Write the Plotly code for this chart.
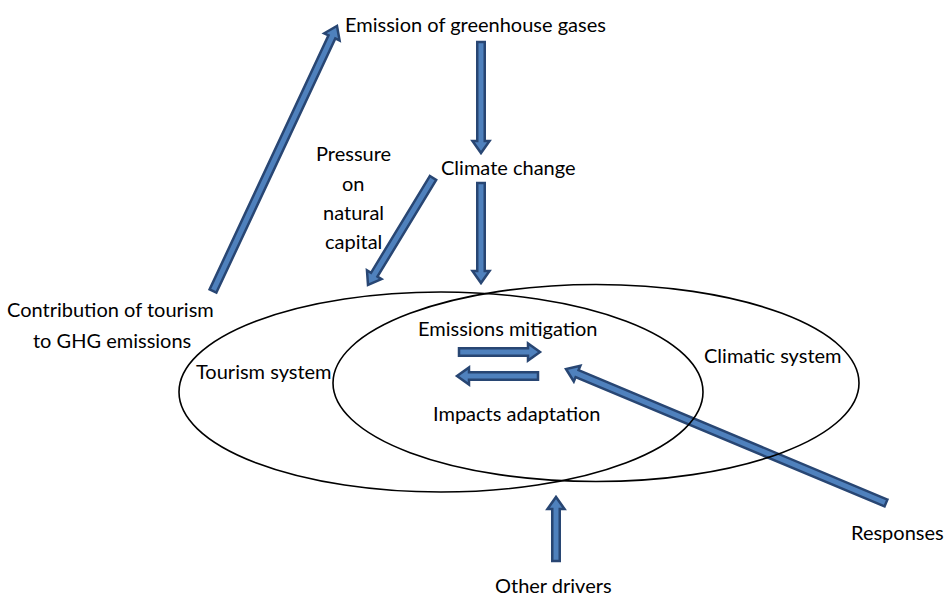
import math
import plotly.graph_objects as go

W, H = 944, 596

# Text labels of the diagram (one entry per text line)
label_texts = [
    "Emission of greenhouse gases",
    "Climate change",
    "Pressure", "on", "natural", "capital",
    "Contribution of tourism", "to GHG emissions",
    "Tourism system",
    "Climatic system",
    "Emissions mitigation",
    "Impacts adaptation",
    "Responses",
    "Other drivers",
]
label_x = [475, 508, 353, 353, 353, 353, 110, 112, 264, 773, 508, 517, 897, 553]
label_y = [24, 167, 153, 183, 212, 241, 309, 340, 371, 355, 328, 413, 532, 585]

# Arrows: (tail_x, tail_y, tip_x, tip_y)
arrow_tail_x = [213, 481, 433, 481, 459, 538, 886, 556]
arrow_tail_y = [291, 42, 178, 183, 352, 376, 503, 561]
arrow_tip_x = [337, 481, 368, 481, 540, 457, 566, 556]
arrow_tip_y = [26, 153, 285, 283, 352, 376, 369, 497]

# Ellipses: center x, center y, radius x, radius y
ellipse_cx = [441, 596]
ellipse_cy = [392, 383]
ellipse_rx = [262, 263]
ellipse_ry = [100, 98.5]

OUTLINE = "#284673"
FILL = "#4F81BD"


def arrow_path(x0, y0, x1, y1, shaft=7.5, head_w=17, head_l=12):
    dx, dy = x1 - x0, y1 - y0
    L = math.hypot(dx, dy)
    ux, uy = dx / L, dy / L
    px, py = -uy, ux
    bx, by = x1 - ux * head_l, y1 - uy * head_l
    s, h = shaft / 2, head_w / 2
    pts = [
        (x0 + px * s, y0 + py * s),
        (bx + px * s, by + py * s),
        (bx + px * h, by + py * h),
        (x1, y1),
        (bx - px * h, by - py * h),
        (bx - px * s, by - py * s),
        (x0 - px * s, y0 - py * s),
    ]
    return "M " + " L ".join(f"{x:.2f},{y:.2f}" for x, y in pts) + " Z"


fig = go.Figure()
fig.add_trace(go.Scatter(x=[0, W], y=[0, H], mode="markers",
                         marker=dict(opacity=0), hoverinfo="skip", showlegend=False))

shapes = []
for x0, y0, x1, y1 in zip(arrow_tail_x, arrow_tail_y, arrow_tip_x, arrow_tip_y):
    shapes.append(dict(type="path", path=arrow_path(x0, y0, x1, y1), xref="x", yref="y",
                       fillcolor=FILL, line=dict(color=OUTLINE, width=2.5)))
for cx, cy, rx, ry in zip(ellipse_cx, ellipse_cy, ellipse_rx, ellipse_ry):
    shapes.append(dict(type="circle", xref="x", yref="y", x0=cx - rx, x1=cx + rx,
                       y0=cy - ry, y1=cy + ry, line=dict(color="black", width=1.6),
                       fillcolor="rgba(0,0,0,0)"))

annotations = []
for t, x, y in zip(label_texts, label_x, label_y):
    annotations.append(dict(text=t, x=x, y=y, xref="x", yref="y", showarrow=False,
                            xanchor="center", yanchor="middle", align="center",
                            font=dict(family="Lato", size=20, color="black")))

fig.update_layout(
    width=W, height=H, margin=dict(l=0, r=0, t=0, b=0),
    paper_bgcolor="white", plot_bgcolor="white",
    xaxis=dict(range=[0, W], visible=False, fixedrange=True),
    yaxis=dict(range=[H, 0], visible=False, fixedrange=True),
    shapes=shapes, annotations=annotations, showlegend=False,
)
fig.write_html("out.html", config={"displayModeBar": False},
               post_script="document.body.style.margin='0';document.body.style.overflow='hidden';")
